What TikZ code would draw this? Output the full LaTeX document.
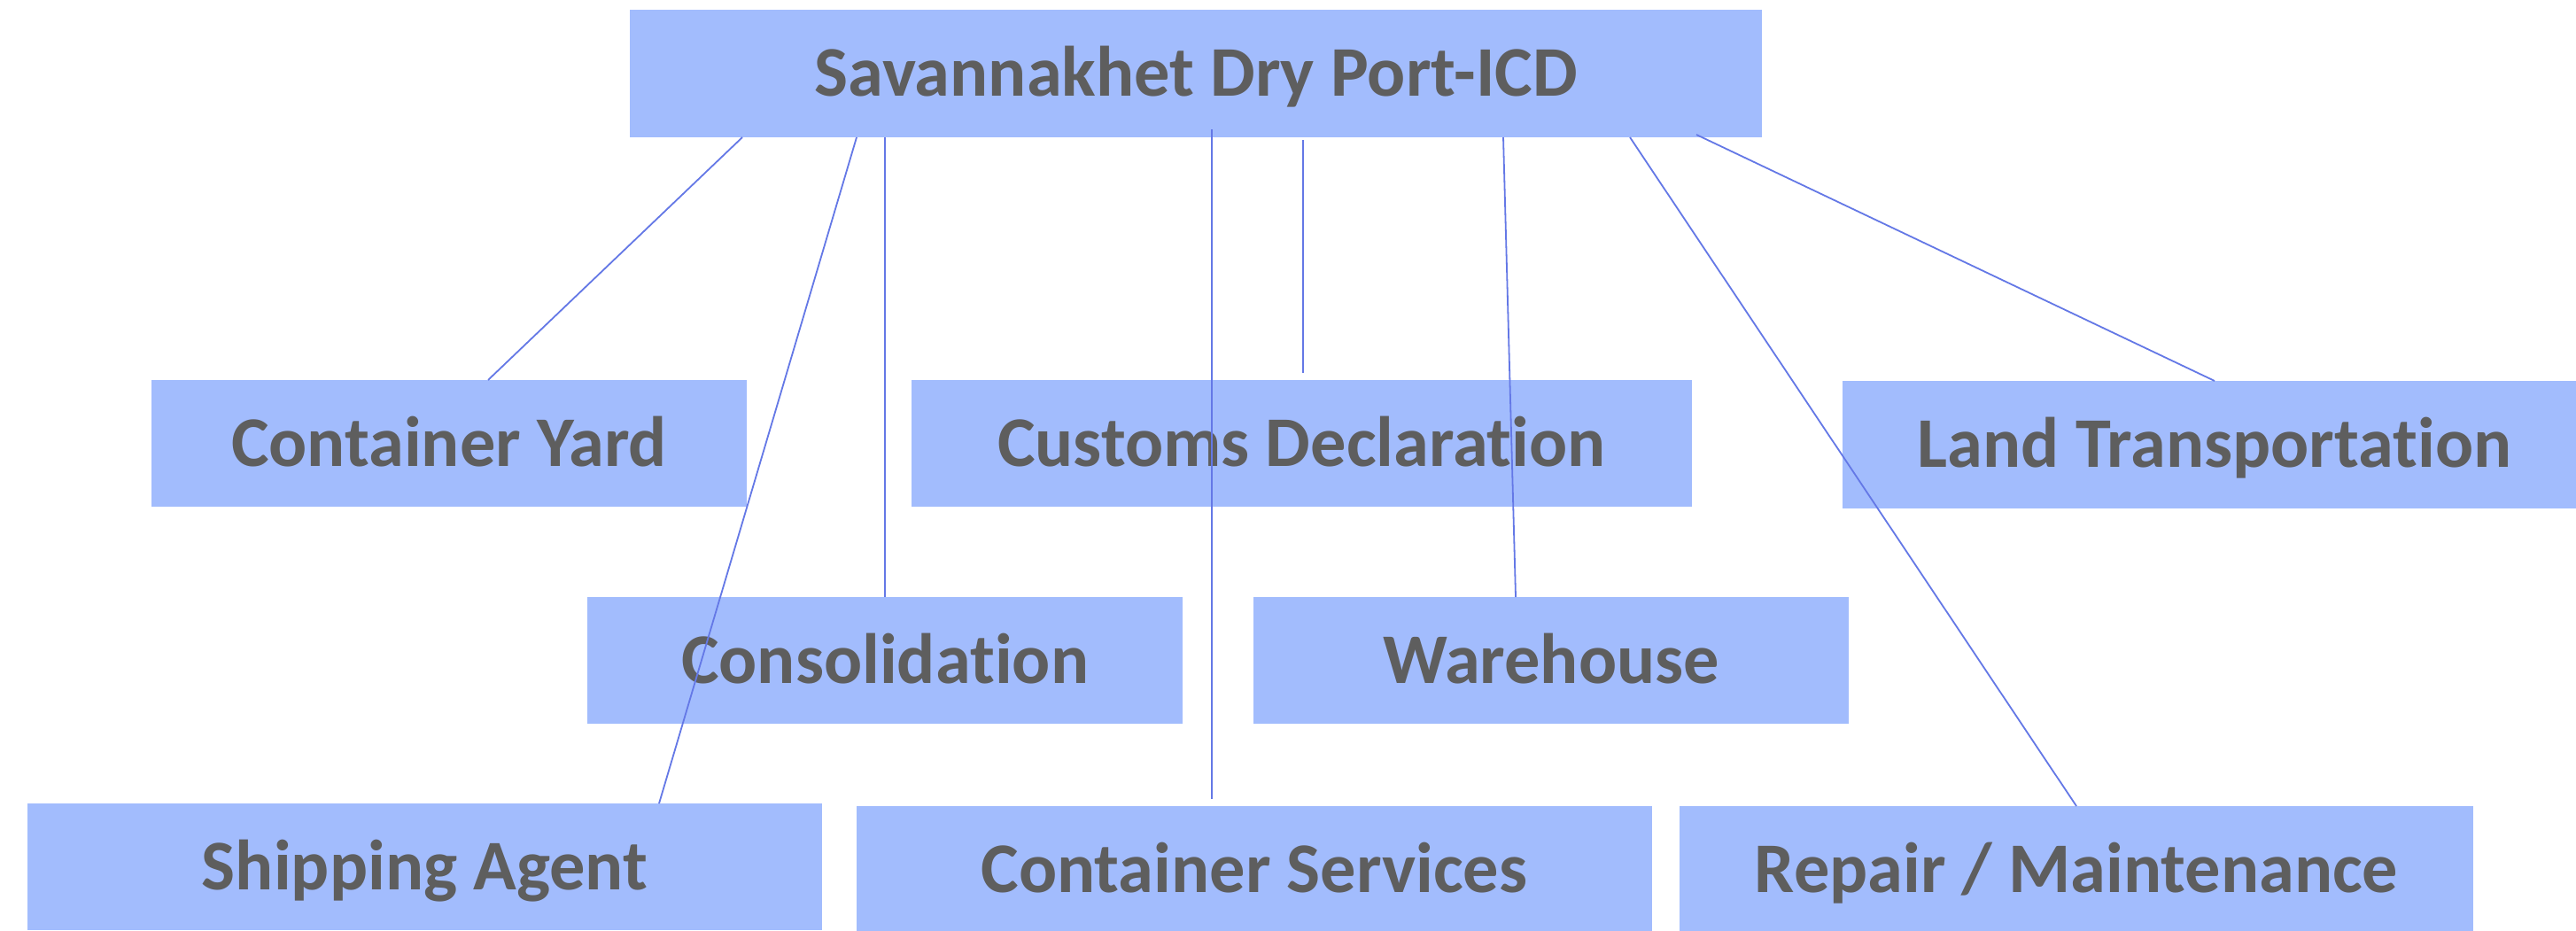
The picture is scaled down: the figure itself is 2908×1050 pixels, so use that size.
\documentclass[tikz,border=0pt]{standalone}
\usepackage{fontspec}
\setmainfont[Ligatures={NoCommon,NoRare,NoDiscretionary}, Contextuals=NoAlternate]{Carlito}
\usetikzlibrary{calc}
\definecolor{boxc}{RGB}{162,188,253}
\definecolor{txtc}{RGB}{94,94,94}
\definecolor{linec}{RGB}{100,120,230}
\tikzset{
  orgbox/.style={fill=boxc, text=txtc, inner sep=0pt, outer sep=0pt,
    font=\bfseries\fontsize{20.1}{24}\selectfont,
    text height=12.8pt, text depth=0pt, minimum height=35.75pt},
  conn/.style={draw=linec, line width=0.45pt}
}
\begin{document}
\begin{tikzpicture}[x=0.25pt,y=-0.25pt]
\useasboundingbox (0,0) rectangle (2908,1050);
\clip (0,0) rectangle (2908,1050);
\fill[white] (0,0) rectangle (2908,1050);
\node[orgbox, minimum width=319.5pt, minimum height=36pt] (top) at (1350,83) {Savannakhet Dry Port-ICD};
\node[orgbox, minimum width=168pt] (cy) at (507,500.5) {Container Yard};
\node[orgbox, minimum width=220.25pt] (cd) at (1469.5,500.5) {Customs Declaration};
\node[orgbox, minimum width=210pt, minimum height=36pt] (lt) at (2500,502) {Land Transportation};
\node[orgbox, minimum width=168pt] (con) at (999,745.5) {Consolidation};
\node[orgbox, minimum width=168pt] (wh) at (1751,745.5) {Warehouse};
\node[orgbox, minimum width=224.25pt] (sa) at (479.5,978.5) {Shipping Agent};
\node[orgbox, minimum width=224.5pt] (cs) at (1416,981.5) {Container Services};
\node[orgbox, minimum width=224pt] (rm) at (2344,981.5) {Repair / Maintenance};
\draw[conn] ($(top.south west)+(127,0)$) -- ($(cy.north west)+(380,0)$);
\draw[conn] ($(top.south west)+(256,0)$) -- ($(sa.north west)+(713,0)$);
\draw[conn] ($(top.south west)+(288,0)$) -- (con.north);
\draw[conn] ($(top.south west)+(657,-9)$) -- ($(cs.north west)+(401,-8)$);
\draw[conn] ($(top.south west)+(760,3)$) -- ($(cd.north west)+(442,-8)$);
\draw[conn] ($(top.south west)+(986,0)$) -- ($(wh.north west)+(296,0)$);
\draw[conn] ($(top.south west)+(1129,0)$) -- (rm.north);
\draw[conn] ($(top.south west)+(1204,-3)$) -- (lt.north);
\end{tikzpicture}
\end{document}
